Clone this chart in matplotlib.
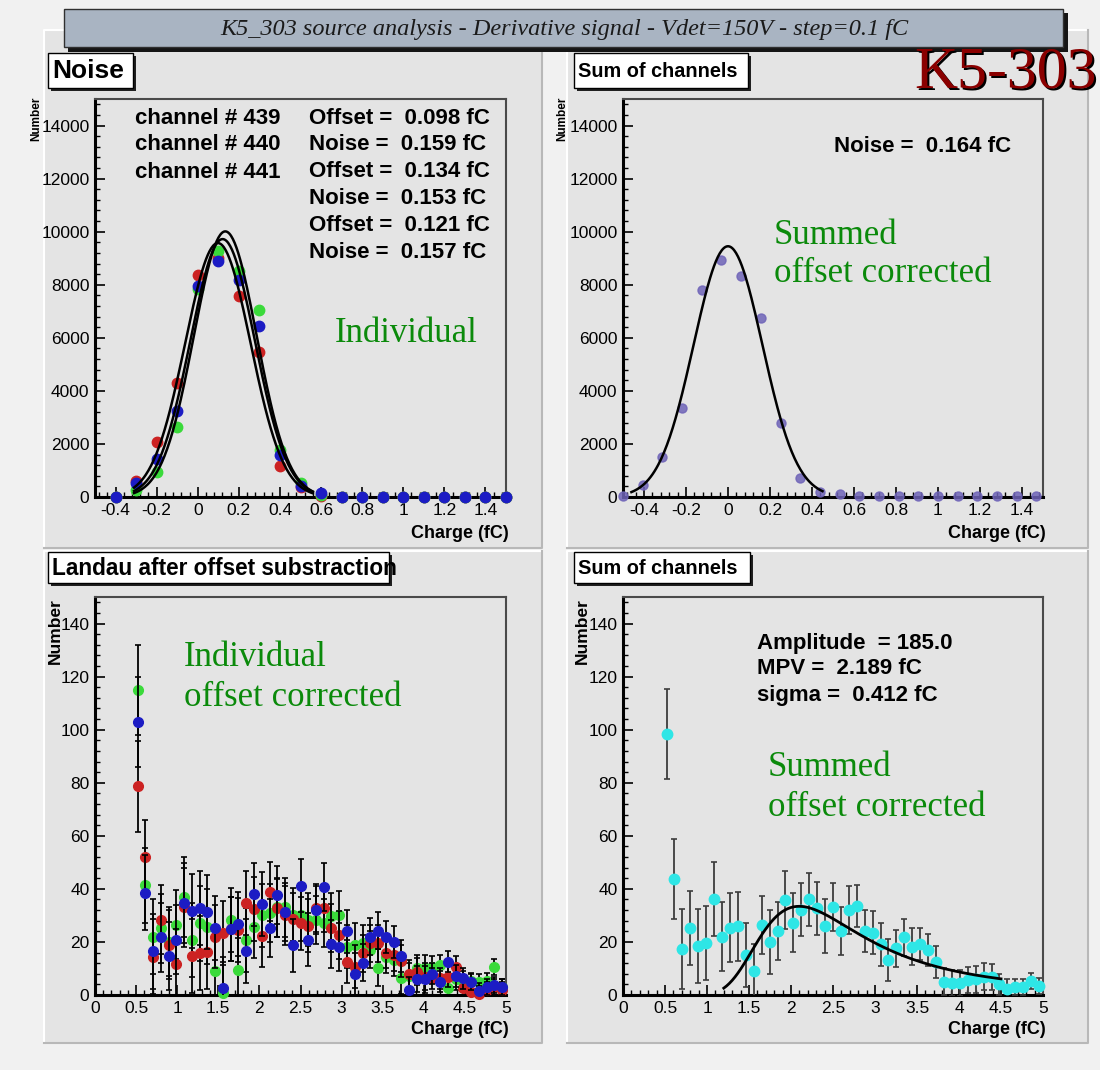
import numpy as np
import matplotlib.pyplot as plt
from matplotlib.patches import Rectangle
from matplotlib.ticker import MultipleLocator, FuncFormatter
import matplotlib.transforms as mtransforms

plt.rcParams['font.family'] = ['Liberation Sans', 'DejaVu Sans']

W, H = 1100, 1070

# Noise scan, individual channels (bins of 0.1 fC)
noise_x = [-0.4, -0.3, -0.2, -0.1, 0.0, 0.1, 0.2, 0.3, 0.4, 0.5,
           0.6, 0.7, 0.8, 0.9, 1.0, 1.1, 1.2, 1.3, 1.4, 1.5]
noise_red = [0, 600, 2070, 4280, 8350, 9000, 7570, 5460, 1180, 390,
             50, 0, 0, 0, 0, 0, 0, 0, 0, 0]
noise_green = [0, 260, 950, 2640, 7840, 9290, 8530, 7060, 1770, 520,
               80, 0, 0, 0, 0, 0, 0, 0, 0, 0]
noise_blue = [0, 510, 1450, 3240, 7970, 8880, 8160, 6430, 1580, 410,
              160, 0, 0, 0, 0, 0, 0, 0, 0, 0]
channels = ['channel # 439', 'channel # 440', 'channel # 441']
ch_offset = [0.098, 0.134, 0.121]
ch_noise = [0.159, 0.153, 0.157]
ch_peak = [9570, 10010, 9720]

# Noise of the summed, offset corrected signal
sum_x = [-0.5, -0.406, -0.313, -0.219, -0.125, -0.031, 0.063, 0.156, 0.25, 0.344, 0.438,
         0.531, 0.625, 0.719, 0.813, 0.906, 1.0, 1.094, 1.188, 1.281, 1.375, 1.469]
sum_y = [50, 450, 1520, 3370, 7810, 8920, 8320, 6760, 2800, 730, 200,
         100, 40, 30, 30, 20, 20, 20, 20, 20, 20, 20]
sum_noise = 0.164
sum_peak = 9450

# Source spectra (charge bins)
charge_x = [0.519, 0.613, 0.708, 0.802, 0.896, 0.991, 1.085, 1.179, 1.274, 1.368,
            1.462, 1.557, 1.651, 1.745, 1.840, 1.934, 2.028, 2.123, 2.217, 2.311,
            2.406, 2.500, 2.594, 2.689, 2.783, 2.877, 2.972, 3.066, 3.160, 3.255,
            3.349, 3.443, 3.538, 3.632, 3.726, 3.821, 3.915, 4.009, 4.104, 4.198,
            4.292, 4.387, 4.481, 4.575, 4.670, 4.764, 4.858, 4.953]
landau_red = [78.6, 52, 14.5, 28.3, 19, 11.7, 33, 14.8, 15.7, 16.1,
              22, 23.3, 25, 24.5, 34.8, 32.3, 22.4, 39.0, 32.7, 30,
              28.5, 27, 26.1, 32.7, 32.7, 25.2, 22.6, 12.6, 10.7, 15.7,
              19.5, 19.5, 16, 15, 12.8, 8.1, 8.8, 6.9, 6.3, 6.3,
              6.9, 10.7, 2.5, 1.3, 0.5, 2, 3, 2]
landau_green = [115, 41.3, 22, 25.2, 20, 26.4, 37, 20.8, 27, 25.8,
                9.2, 0.6, 28.3, 9.4, 20.8, 25.8, 30, 30.8, 33, 33,
                30.2, 30.2, 28.3, 28.3, 27, 29.6, 30.2, 18.2, 19, 19.5,
                17, 10.3, 14.2, 13.2, 6.5, 7.2, 10, 10, 10.6, 11.2,
                2.5, 6, 5, 5.3, 5, 5.3, 10.5, 3]
landau_blue = [103, 38.6, 16.4, 21.7, 14.7, 20.8, 34.6, 31.6, 32.7, 31.4,
               25.2, 2.5, 24.9, 26.8, 16.7, 37.9, 34.3, 25.3, 37.7, 31.2,
               18.8, 41.1, 20.8, 32.1, 40.8, 19.1, 18.2, 24.0, 7.9, 12.2,
               22, 24.3, 22.0, 20.1, 14.8, 1.9, 6, 5.9, 8, 5.0,
               12.6, 7.2, 6.3, 5.0, 1.6, 3, 3.7, 3.1]
landau_err = [17, 14, 14, 13, 13, 13, 15, 14, 14, 14,
              12, 12, 12, 12, 12, 12, 12, 11, 11, 11,
              10, 10, 10, 9, 9, 9, 9, 8, 8, 7,
              7, 7, 6, 6, 6, 5, 5, 5, 4, 4,
              4, 4, 4, 3, 3, 3, 3, 3]
summed_y = [98.5, 43.8, 17.4, 25.2, 18.5, 19.7, 36.1, 22.0, 25.4, 26.0,
            15.1, 9.1, 26.5, 20.1, 24.2, 35.8, 27.3, 32.1, 36.1, 32.7,
            26.0, 33.3, 24.2, 32.1, 33.6, 24.2, 23.5, 19.1, 13.2, 17.6,
            21.8, 18.2, 19.2, 17.0, 12.3, 5.0, 4.6, 4.6, 5.7, 5.9,
            6.9, 6.7, 4.0, 2.1, 3.0, 3.1, 5.2, 3.3]
summed_err = [17, 15, 15, 14, 14, 14, 14, 13, 13, 13,
              12, 10, 11, 12, 11, 11, 11, 10, 10, 10,
              10, 9, 9, 9, 8, 8, 8, 8, 8, 7,
              7, 7, 6, 6, 6, 5, 5, 5, 5, 5,
              5, 5, 4, 4, 3, 3, 3, 3]
fit_amp, fit_mpv, fit_sigma = 185.0, 2.189, 0.412

RED, GREEN, BLUE = '#cc2222', '#3ada3a', '#1c1cc4'
PAD = '#e4e4e4'
LABEL_GREEN = '#0b8a0b'


def landau(lam):
    # Landau density phi(lambda) by direct numerical integration
    t = np.linspace(1e-9, 30, 20001)
    lam = np.asarray(lam)[:, None]
    f = np.exp(-t * np.log(t) - lam * t) * np.sin(np.pi * t)
    return np.trapezoid(f, t, axis=1) / np.pi


def gauss(x, mu, s, a):
    return a * np.exp(-0.5 * ((x - mu) / s) ** 2)


def fmt(v, pos):
    v = round(v, 6)
    return '0' if abs(v) < 1e-9 else f'{v:g}'


def frame(x0, y0, x1, y1):
    return [x0 / W, 1 - y1 / H, (x1 - x0) / W, (y1 - y0) / H]


fig = plt.figure(figsize=(W / 100, H / 100), dpi=100, facecolor='#f1f1f1')

# background layer in pixel coordinates
bg = fig.add_axes([0, 0, 1, 1], zorder=0)
bg.set_xlim(0, W)
bg.set_ylim(H, 0)
bg.axis('off')


def rect(x0, y0, x1, y1, **kw):
    bg.add_patch(Rectangle((x0, y0), x1 - x0, y1 - y0, **kw))


# pads with a light bevel
for (x0, y0, x1, y1) in [(44, 30, 542, 548), (567, 30, 1088, 548),
                         (44, 551, 542, 1043), (567, 551, 1088, 1043)]:
    rect(x0, y0, x1, y1, fc=PAD, ec='none', zorder=0)
    bg.plot([x0, x0, x1], [y1, y0, y0], color='white', lw=1.5, zorder=0.5)
    bg.plot([x0, x1, x1], [y1, y1, y0], color='#b8b8b8', lw=1.5, zorder=0.5)

# canvas title bar
rect(68, 13, 1068, 52, fc='#151515', ec='none', zorder=2)
rect(64, 9, 1063, 47, fc='#a9b4c2', ec='#303030', lw=1, zorder=3)
bg.text(564, 29, 'K5_303 source analysis - Derivative signal - Vdet=150V - step=0.1 fC',
        family='Liberation Serif', style='italic', fontsize=17.5, color='#1a1a1a',
        ha='center', va='center', zorder=4)

# pad titles
for (x0, y0, x1, y1, txt, fs) in [(48, 53, 133, 88, 'Noise', 19),
                                  (574, 53, 748, 88, 'Sum of channels', 14.3),
                                  (48, 552, 389, 583, 'Landau after offset substraction', 16.3),
                                  (574, 552, 750, 583, 'Sum of channels', 14.3)]:
    rect(x0 + 3, y0 + 3, x1 + 3, y1 + 3, fc='#202020', ec='none', zorder=2)
    rect(x0, y0, x1, y1, fc='white', ec='black', lw=1, zorder=3)
    bg.text(x0 + 4, (y0 + y1) / 2 + 1, txt, fontsize=fs, fontweight='bold',
            ha='left', va='center', zorder=4)

# detector name with shadow
shadow = mtransforms.offset_copy(bg.transData, fig=fig, x=2, y=-2, units='dots')
for tr, col in [(shadow, 'black'), (bg.transData, '#8a0000')]:
    bg.text(1097, 73, 'K5-303', family='Liberation Serif', fontsize=43, color=col,
            ha='right', va='center', transform=tr, zorder=5)


def style(ax, xlim, ylim, xmaj, xmin, ymaj, ymin):
    ax.set_facecolor('none')
    ax.set_xlim(*xlim)
    ax.set_ylim(*ylim)
    ax.xaxis.set_major_locator(MultipleLocator(xmaj))
    ax.xaxis.set_minor_locator(MultipleLocator(xmin))
    ax.yaxis.set_major_locator(MultipleLocator(ymaj))
    ax.yaxis.set_minor_locator(MultipleLocator(ymin))
    ax.xaxis.set_major_formatter(FuncFormatter(fmt))
    ax.yaxis.set_major_formatter(FuncFormatter(fmt))
    ax.tick_params(which='major', direction='in', length=7, width=1.2,
                   labelsize=12.5, pad=4)
    ax.tick_params(which='minor', direction='in', length=3.5, width=1)
    for s in ('left', 'bottom'):
        ax.spines[s].set_linewidth(2.2)
        ax.spines[s].set_color('black')
    for s in ('top', 'right'):
        ax.spines[s].set_linewidth(1.5)
        ax.spines[s].set_color('#4a4a4a')


# ---- noise, individual channels ----
ax1 = fig.add_axes(frame(95, 99, 506, 497), zorder=1)
style(ax1, (-0.5, 1.5), (0, 15000), 0.2, 0.04, 2000, 400)
for ys, c in [(noise_red, RED), (noise_green, GREEN), (noise_blue, BLUE)]:
    ax1.plot(noise_x, ys, 'o', color=c, ms=7.5, clip_on=False, zorder=3)
xf = np.linspace(-0.31, 0.56, 200)
for mu, s, a in zip(ch_offset, ch_noise, ch_peak):
    ax1.plot(xf, gauss(xf, mu, s, a), color='black', lw=1.8, zorder=4)

# ---- noise, sum of channels ----
ax2 = fig.add_axes(frame(623, 99, 1043, 497), zorder=1)
style(ax2, (-0.5, 1.5), (0, 15000), 0.2, 0.04, 2000, 400)
ax2.plot(sum_x, sum_y, 'o', color='#6f64b8', alpha=0.85, ms=6.5, clip_on=False, zorder=3)
xs = np.linspace(-0.46, 0.45, 200)
ax2.plot(xs, gauss(xs, 0.0, sum_noise, sum_peak), color='black', lw=1.8, zorder=4)

# ---- Landau, individual channels ----
ax3 = fig.add_axes(frame(95, 597, 506, 995), zorder=1)
style(ax3, (0, 5), (0, 150), 0.5, 0.1, 20, 4)
for ys, c in [(landau_green, GREEN), (landau_red, RED), (landau_blue, BLUE)]:
    ax3.errorbar(charge_x, ys, yerr=landau_err, fmt='none', ecolor='black',
                 elinewidth=1.3, capsize=2, capthick=1.2, zorder=3)
    ax3.plot(charge_x, ys, 'o', color=c, ms=7, clip_on=False, zorder=3)

# ---- Landau, sum of channels ----
ax4 = fig.add_axes(frame(623, 597, 1043, 995), zorder=1)
style(ax4, (0, 5), (0, 150), 0.5, 0.1, 20, 4)
ax4.errorbar(charge_x, summed_y, yerr=summed_err, fmt='none', ecolor='#3c3c3c',
             elinewidth=1.3, capsize=2.5, capthick=1.2, zorder=3)
ax4.plot(charge_x, summed_y, 'o', color='#2ee6e6', ms=7.5, clip_on=False, zorder=3)
xl = np.linspace(1.2, 4.5, 200)
ax4.plot(xl, fit_amp * landau((xl - fit_mpv) / fit_sigma), color='black', lw=2, zorder=4)

# axis titles
for x_right, y in [(509, 533), (1046, 533), (509, 1030), (1046, 1030)]:
    bg.text(x_right, y, 'Charge (fC)', fontsize=13, fontweight='bold',
            ha='right', va='center', zorder=4)
# y titles sit just left of the tick labels
for x, y, fs in [(36, 97, 8.5), (562, 97, 8.5), (55, 598, 12.5), (582, 598, 12.5)]:
    fig.text(x / W, 1 - y / H, 'Number', rotation=90, fontsize=fs,
             fontweight='bold', ha='center', va='top', zorder=6)

# fit results
for i, name in enumerate(channels):
    bg.text(135, 118 + 27 * i, name, fontsize=16, fontweight='bold', va='center', zorder=4)
stat_lines = []
for off, nz in zip(ch_offset, ch_noise):
    stat_lines += [f'Offset =  {off:.3f} fC', f'Noise =  {nz:.3f} fC']
for i, line in enumerate(stat_lines):
    bg.text(309, 118 + 26.8 * i, line, fontsize=16, fontweight='bold', va='center', zorder=4)
bg.text(834, 147, f'Noise =  {sum_noise:.3f} fC', fontsize=16, fontweight='bold',
        va='center', zorder=4)
for i, line in enumerate([f'Amplitude  = {fit_amp:.1f}', f'MPV =  {fit_mpv:.3f} fC',
                          f'sigma =  {fit_sigma:.3f} fC']):
    bg.text(757, 643 + 26 * i, line, fontsize=16, fontweight='bold', va='center', zorder=4)

# annotations
for x, y, txt in [(335, 333, 'Individual'),
                  (774, 235, 'Summed'), (774, 274, 'offset corrected'),
                  (184, 658, 'Individual'), (184, 697, 'offset corrected'),
                  (768, 768, 'Summed'), (768, 807, 'offset corrected')]:
    bg.text(x, y, txt, family='Liberation Serif', fontsize=25, color=LABEL_GREEN,
            ha='left', va='center', zorder=4)

fig.savefig('out.png', dpi=100, facecolor=fig.get_facecolor())
